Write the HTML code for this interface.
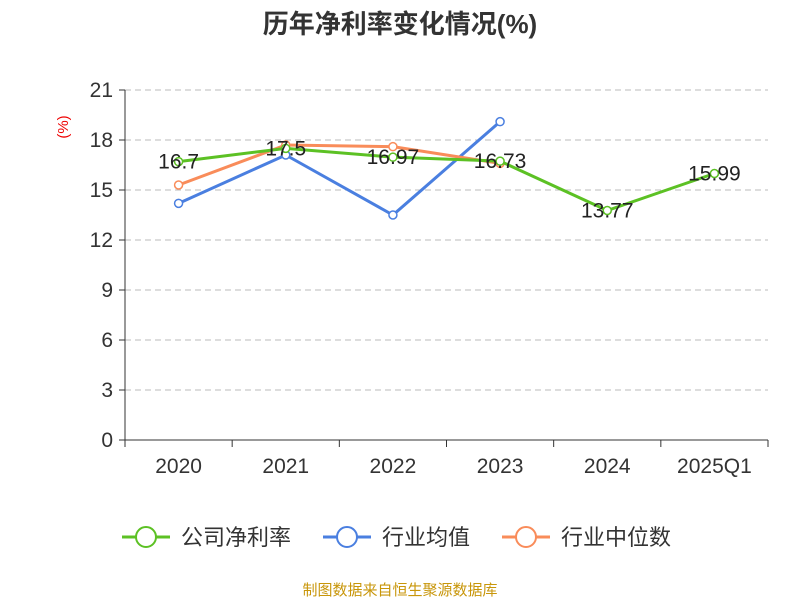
<!DOCTYPE html>
<html><head><meta charset="utf-8"><style>
body{margin:0;background:#fff;}
svg{display:block;font-family:"Liberation Sans","Noto Sans CJK SC",sans-serif;}
</style></head><body>
<svg id="chart" width="800" height="600">
<text x="400" y="33" text-anchor="middle" font-size="26" font-weight="bold" fill="#333">历年净利率变化情况(%)</text>
<text x="68" y="127" text-anchor="middle" font-size="15" fill="#e00" transform="rotate(-90 68 127)">(%)</text>
<g id="grid"></g><g id="axes"></g><g id="series"></g>
<g>
<g><line x1="122" y1="537" x2="170" y2="537" stroke="#5cc124" stroke-width="3"/><circle cx="146" cy="537" r="10" fill="#fff" stroke="#5cc124" stroke-width="2"/><text x="181" y="545" font-size="22" fill="#333">公司净利率</text></g>
<g><line x1="323" y1="537" x2="371" y2="537" stroke="#4a7fe0" stroke-width="3"/><circle cx="347" cy="537" r="10" fill="#fff" stroke="#4a7fe0" stroke-width="2"/><text x="382" y="545" font-size="22" fill="#333">行业均值</text></g>
<g><line x1="502" y1="537" x2="550" y2="537" stroke="#f98c5a" stroke-width="3"/><circle cx="526" cy="537" r="10" fill="#fff" stroke="#f98c5a" stroke-width="2"/><text x="561" y="545" font-size="22" fill="#333">行业中位数</text></g>
</g>
<text x="400" y="595" text-anchor="middle" font-size="15" fill="#c8960a">制图数据来自恒生聚源数据库</text>
</svg>
<script>
const categories=["2020","2021","2022","2023","2024","2025Q1"];
const company=[16.7,17.5,16.97,16.73,13.77,15.99];
const industryAvg=[14.2,17.1,13.5,19.1,null,null];
const industryMedian=[15.3,17.7,17.6,16.6,null,null];
const yTicks=[0,3,6,9,12,15,18,21];
const NS="http://www.w3.org/2000/svg";
const L=125,R=768,T=90,B=440,ymax=21;
const bw=(R-L)/categories.length;
const xs=i=>L+bw*(i+0.5);
const ys=v=>B-(v/ymax)*(B-T);
function mk(tag,attrs,parent){const e=document.createElementNS(NS,tag);for(const k in attrs)e.setAttribute(k,attrs[k]);parent.appendChild(e);return e;}
const grid=document.getElementById('grid'),axes=document.getElementById('axes'),ser=document.getElementById('series');
yTicks.forEach(t=>{
 const y=ys(t);
 if(t>0){const g=mk('line',{x1:L,x2:R,y1:y,y2:y,stroke:'#bbb','stroke-dasharray':'6,4'},grid);
 
 }
 const tk=mk('line',{x1:L-6,x2:L,y1:y,y2:y,stroke:'#333'},axes);
 
 
 const tx=mk('text',{x:L-12,y:y+7,'text-anchor':'end','font-size':21,fill:'#333'},axes);tx.textContent=t;
 
 
});
const ya=mk('line',{x1:L,x2:L,y1:T,y2:B,stroke:'#333'},axes);


const xa=mk('line',{x1:L,x2:R,y1:B,y2:B,stroke:'#333'},axes);


for(let i=0;i<=categories.length;i++){const x=L+bw*i;const t=mk('line',{x1:x,x2:x,y1:B,y2:B+7,stroke:'#333'},axes);
 
 }
categories.forEach((c,i)=>{const t=mk('text',{x:xs(i),y:B+33,'text-anchor':'middle','font-size':21,fill:'#333'},axes);t.textContent=c;
 
 });
function draw(data,color,name){
 const pts=data.map((v,i)=>v==null?null:[xs(i),ys(v)]).filter(p=>p);
 const pl=mk('polyline',{points:pts.map(p=>p.join(',')).join(' '),fill:'none',stroke:color,'stroke-width':3},ser);
 
 
 data.forEach((v,i)=>{if(v==null)return;
  const c=mk('circle',{cx:xs(i),cy:ys(v),r:4,fill:'#fff',stroke:color,'stroke-width':1.5},ser);
  
  
 });
}
draw(industryAvg,'#4a7fe0','industry-avg');
draw(industryMedian,'#f98c5a','industry-median');
draw(company,'#5cc124','company');
company.forEach((v,i)=>{const t=mk('text',{x:xs(i),y:ys(v)+7,'text-anchor':'middle','font-size':21,fill:'#222'},ser);t.textContent=v;
 
 });
</script>
</body></html>
